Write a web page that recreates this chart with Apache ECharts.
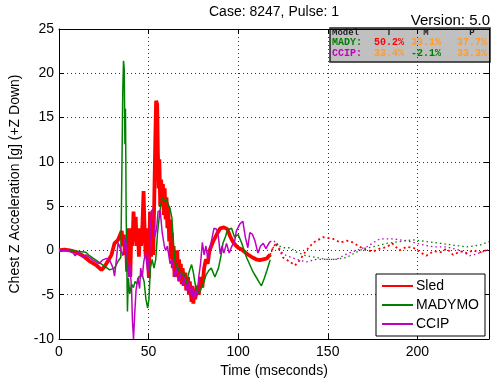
<!DOCTYPE html>
<html>
<head>
<meta charset="utf-8">
<script src="https://cdn.jsdelivr.net/npm/echarts@6/dist/echarts.min.js"></script>
<style>html,body{margin:0;padding:0;background:#fff}#c{width:494px;height:383px}</style>
</head>
<body>
<div id="c"></div>
<script>
// ---- data: [time (ms), acceleration (g)] ----
const sledSolid = [[0,0],[3,0.1],[6,0],[9.7,-0.2],[13.4,-0.6],[17,-1.2],[21,-1.7],[23.7,-2.2],[25.5,-1.8],[27.3,-1.2],[29.3,-0.5],[31,0.8],[33,1.2],[34,1.0],[35,2.2],[35.6,0.5],[36.2,1.8],[36.8,-0.5],[37.4,1],[38,-2.4],[38.6,2.5],[39.2,-1],[39.8,-3],[40.4,2.5],[41,0.5],[41.6,4.4],[42.2,1],[42.8,3.8],[43.4,0.5],[44,2.5],[44.6,-0.7],[45.2,2.5],[45.8,0.5],[46.6,3],[47.2,6.7],[47.8,2],[48.4,-0.7],[49,2.5],[49.6,-1],[50.2,-3.1],[50.8,4.4],[51.4,-0.7],[52,3.5],[52.6,-0.5],[53.2,6],[53.7,12],[54.2,16.9],[54.8,16.5],[55.2,11],[55.6,7],[56,10.3],[56.5,5],[57,8],[57.5,5.5],[58,7.5],[58.5,4],[59,7],[59.5,3.5],[60,6],[60.5,2.5],[61,5],[61.5,1],[62,3.5],[62.5,-1],[63,2],[63.5,-2],[64,0.5],[64.5,-3],[65,-0.5],[65.5,-2.5],[66,0],[66.5,-3],[67,-1],[67.5,-3.5],[68,-1.5],[68.5,-3.8],[69,-2],[70,-4],[70.5,-2.5],[71,-4.5],[72,-3],[72.5,-5],[73,-3.5],[74,-5.8],[74.5,-4],[75,-6],[75.5,-4.5],[76,-5.5],[77,-4],[78,-5],[79,-3],[80,-4.2],[81,-2],[82,-1],[83,-1.5],[84,0],[85,0.5],[86,1],[88,1.8],[90,2.5],[92,2.6],[94,2.4],[95.5,1.6],[97,1],[98.5,0.6],[100,0.3],[102,0.1],[103,0],[105,-0.4],[108,-0.8],[110,-1.0],[112,-1.1],[114,-1.0],[116,-0.9],[117.7,-0.5]];
const sledDotted = [[117.7,-0.5],[119.5,0.3],[121.4,0.9],[123,0.2],[125,-0.8],[129,-1.3],[131.7,-1.7],[134,-1.2],[138,0],[142,0.9],[147.5,1.5],[153,1.3],[157,0.9],[160.5,1.1],[164,0.9],[168,0.4],[171.7,0],[175.4,-0.1],[179,0.2],[183,0.4],[186,0.8],[190,0],[194,0.4],[197.8,0.3],[201.5,-0.2],[205,-0.6],[209,-0.1],[213,-0.2],[216.4,0.2],[220,-0.5],[224,-0.1],[227.6,-0.3],[231,0],[235,-0.2],[240,0.1]];
const madymoSolid = [[0,0],[5,0],[10,-0.1],[15,-0.2],[17,-0.6],[20,-1.0],[22,-1.3],[25.5,-1.8],[28.3,-2.2],[31,-2.0],[33,-1.2],[34.5,-0.8],[35.1,9],[35.6,18],[36,21.4],[36.4,20.5],[36.8,12],[37.1,16],[37.5,4],[38.2,-6.9],[38.7,-3.1],[39.5,-4.9],[40.5,-3.8],[41.5,-4.2],[42.5,-3.5],[43.5,-3.8],[44.5,-3],[45.5,-3.2],[46.5,-2.8],[47.5,-3.5],[48.5,-5.5],[49.5,-6.5],[50.2,-5.5],[51,-2],[52,-1],[53,-2],[54,-1],[55,2],[56.3,4.4],[57.6,6],[59,5.5],[60,5.8],[61,5.2],[62,4.7],[63,3.7],[64.5,-1],[65,-1.4],[66.5,-2],[68,-2.8],[69.5,-2.5],[71,-3.8],[72.5,-2.5],[74,-1.6],[75,-2.5],[76,-3.8],[77.5,-4.8],[79,-4.5],[79.5,-4.2],[81,-3.5],[82,-2.8],[83.5,-2.3],[85,-2],[87,-3],[89,-2],[90.5,-0.5],[91.5,0.8],[93,1.6],[94,2.3],[96.3,2.5],[98,1.5],[100,1.8],[102,0.8],[104.7,-0.8],[108,-2.3],[110,-3],[112,-3.7],[113,-4],[114.5,-3.2],[116,-2.3],[117.7,-1.2]];
const madymoDotted = [[117.7,-1.2],[119,0.2],[121,0.7],[125,0.3],[129,0.3],[132.6,-0.2],[138,-0.6],[143.8,-0.8],[149,-1],[155,-1],[160.5,-0.8],[164,-0.4],[170,0.2],[175,0.4],[183,0.8],[190,1],[197.6,1.2],[205,1],[213,0.8],[220,0.6],[227.6,0.4],[235,0.6],[240,1]];
const ccipSolid = [[0,0],[5,0],[8,-0.3],[9,-0.6],[10.5,-0.2],[13.4,-0.8],[15,-0.5],[19,-1.1],[22.3,-1.5],[24.2,-1.1],[26.5,-0.9],[28.3,-1.1],[30.2,-2.0],[31,-2.9],[32,-1.1],[33,0.9],[34,1.1],[35.6,-0.6],[37,1.5],[38,-0.5],[38.8,-3],[39.5,-1.5],[40.5,-4.3],[41,-8],[41.6,-10],[42.3,-7],[43,-4.5],[44,-3.1],[45,-4.3],[45.6,-2],[46.5,-3],[47.3,-1.3],[48.3,-0.3],[49.6,-2.5],[50.5,-0.5],[51.5,4.4],[52.5,4.7],[53.4,1.5],[54.5,2.5],[55.3,4.4],[56.5,4.5],[57.6,2],[58.8,0.5],[59.5,0],[60.5,0.5],[61.4,-0.7],[62,-1.5],[63,-1],[64.5,-3],[65.5,-2],[66.5,-3.5],[67.5,-2.5],[69,-4],[70,-3],[71,-4.5],[72,-3.5],[73,-5],[74,-4],[75,-5.5],[76,-4.5],[77,-5.2],[78,-3],[79,-1.5],[80,0.9],[81,-0.5],[82,0.5],[83,-0.9],[85,1],[86.5,2.5],[88,2.4],[89,1.5],[90,-0.4],[91,0.5],[92,-0.3],[93.5,0.8],[95,-0.3],[96.5,0.5],[98,1],[99,2.2],[101,3],[102.6,3.3],[104,1.5],[105.4,0.3],[106.5,2],[108,1.8],[109.5,1],[111,-0.3],[112.5,0.5],[114,0.8],[115.5,0.2],[116.6,0.6],[117.7,1.0]];
const ccipDotted = [[117.7,1.0],[120,1.1],[123,0],[127,-0.6],[132.6,-1],[138,-1.3],[143.8,-1],[149,-1],[155,-1],[160.5,-0.4],[166,0],[171.7,0.4],[179,1.3],[186.5,1.3],[194,1.1],[201.5,0.7],[209,0.4],[216.4,0.4],[224,0],[229.3,-0.6],[233,-0.4],[238.8,0],[240,0.1]];

const seriesNames = ['Sled', 'MADYMO', 'CCIP'];
const tableHeader = ['Model', 'T', 'M', 'P'];
const tableRows = [
  ['MADY:', '50.2%', '33.1%', '37.7%'],
  ['CCIP:', '33.4%', '-2.1%', '33.3%']
];
const titleText = 'Case: 8247, Pulse: 1';
const versionText = 'Version: 5.0';

const RED = '#ff0000', GREEN = '#008000', MAG = '#c000c0', ORANGE = '#ff9a2e';
const rowColors = [
  ['#008000', '#ff0000', ORANGE, ORANGE],
  ['#c000c0', ORANGE, '#008000', ORANGE]
];
const FONT = '"Liberation Sans", Arial, sans-serif';
const MONO = '"Liberation Mono", "DejaVu Sans Mono", monospace';

const chart = echarts.init(document.getElementById('c'), null, {renderer: 'canvas'});

const gridLine = {show: true, lineStyle: {type: [1, 3], color: '#333', width: 1}};
const colX = [332, 389, 426, 472];
const tableTexts = [];
tableHeader.forEach((h, i) => tableTexts.push({type: 'text', x: colX[i], y: 33,
  style: {text: h, fill: '#222', font: 'bold 9px ' + MONO, align: i === 0 ? 'left' : 'center', verticalAlign: 'middle'}}));
tableRows.forEach((row, r) => row.forEach((cell, i) => tableTexts.push({type: 'text', x: colX[i], y: 42 + r * 11,
  style: {text: cell, fill: rowColors[r][i], font: 'bold 10px ' + MONO, align: i === 0 ? 'left' : 'center', verticalAlign: 'middle'}})));

chart.setOption({
  animation: false,
  backgroundColor: '#fff',
  grid: {left: 59, right: 5, top: 29, bottom: 42, show: false},
  xAxis: [{
    type: 'value', min: 0, max: 240, interval: 50,
    name: 'Time (mseconds)', nameLocation: 'middle', nameGap: 25,
    nameTextStyle: {fontFamily: FONT, fontSize: 14, color: '#000'},
    axisLine: {show: true, onZero: false, lineStyle: {color: '#000', width: 1}},
    axisTick: {show: true, inside: true, length: 5, lineStyle: {color: '#000'}},
    axisLabel: {fontFamily: FONT, fontSize: 14, color: '#000', margin: 6, showMaxLabel: false},
    splitLine: gridLine
  }, {
    type: 'value', min: 0, max: 240, interval: 50, position: 'top',
    axisLine: {show: true, onZero: false, lineStyle: {color: '#000', width: 1}},
    axisTick: {show: true, inside: true, length: 5, lineStyle: {color: '#000'}},
    axisLabel: {show: false}, splitLine: {show: false}
  }],
  yAxis: [{
    type: 'value', min: -10, max: 25, interval: 5,
    name: 'Chest Z Acceleration [g] (+Z Down)', nameLocation: 'middle', nameGap: 37,
    nameTextStyle: {fontFamily: FONT, fontSize: 14, color: '#000'},
    axisLine: {show: true, onZero: false, lineStyle: {color: '#000', width: 1}},
    axisTick: {show: true, inside: true, length: 5, lineStyle: {color: '#000'}},
    axisLabel: {fontFamily: FONT, fontSize: 14, color: '#000', margin: 5},
    splitLine: gridLine
  }, {
    type: 'value', min: -10, max: 25, interval: 5, position: 'right',
    axisLine: {show: true, onZero: false, lineStyle: {color: '#000', width: 1}},
    axisTick: {show: true, inside: true, length: 5, lineStyle: {color: '#000'}},
    axisLabel: {show: false}, splitLine: {show: false}
  }],
  legend: {
    data: seriesNames, orient: 'vertical', left: 376, top: 274,
    padding: [5, 6, 5, 5], itemGap: 5, itemWidth: 31, itemHeight: 14,
    backgroundColor: '#fff', borderColor: '#000', borderWidth: 1,
    itemStyle: {opacity: 0},
    textStyle: {fontFamily: FONT, fontSize: 14, color: '#000', padding: [0, 0, 0, -2]},
    z: 10
  },
  series: [
    {name: 'Sled', type: 'line', data: sledSolid, symbol: 'none', color: RED, lineStyle: {color: RED, width: 3.8}, z: 3},
    {name: 'MADYMO', type: 'line', data: madymoSolid, symbol: 'none', color: GREEN, lineStyle: {color: GREEN, width: 1.5}, z: 4},
    {name: 'CCIP', type: 'line', data: ccipSolid, symbol: 'none', color: MAG, lineStyle: {color: MAG, width: 1.5}, z: 5},
    {name: 'Sled (cont.)', type: 'line', data: sledDotted, symbol: 'none', lineStyle: {color: RED, width: 1.8, type: [2, 3]}, z: 3},
    {name: 'MADYMO (cont.)', type: 'line', data: madymoDotted, symbol: 'none', lineStyle: {color: GREEN, width: 1.3, type: [1.5, 3]}, z: 4},
    {name: 'CCIP (cont.)', type: 'line', data: ccipDotted, symbol: 'none', lineStyle: {color: MAG, width: 1.3, type: [1.5, 3]}, z: 5}
  ],
  graphic: [
    {type: 'text', x: 274, y: 12, style: {text: titleText, font: '14px ' + FONT, fill: '#000', align: 'center', verticalAlign: 'middle'}},
    {type: 'text', x: 490, y: 21, style: {text: versionText, font: '15px ' + FONT, fill: '#000', align: 'right', verticalAlign: 'middle'}},
    {type: 'group', z: 20, children: [
      {type: 'rect', shape: {x: 330, y: 28, width: 160, height: 34}, style: {fill: '#c0c0c0', stroke: '#222', lineWidth: 1.5}}
    ].concat(tableTexts)}
  ]
});
</script>
</body>
</html>
